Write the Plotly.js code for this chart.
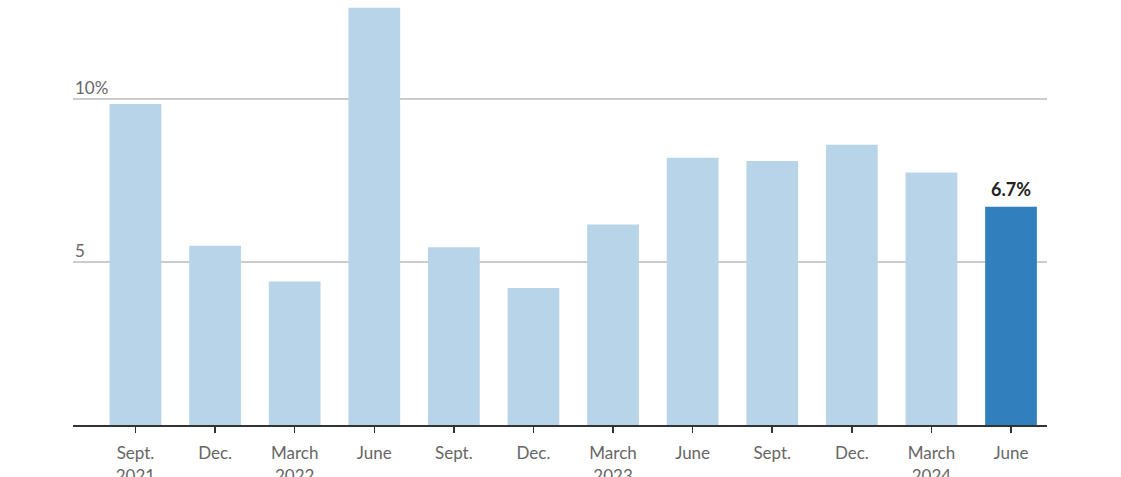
<!DOCTYPE html>
<html><head><meta charset="utf-8">
<script src="https://cdn.plot.ly/plotly-3.0.1.min.js"></script>
<style>html,body{margin:0;padding:0;background:#fff}#chart{width:1121px;height:477px}</style>
</head><body><div id="chart"></div>
<script>
const categories = ["Sept.<br>2021","Dec.","March<br>2022","June","Sept.","Dec.","March<br>2023","June","Sept.","Dec.","March<br>2024","June"];
const growth = [9.85, 5.5, 4.4, 12.8, 5.45, 4.2, 6.15, 8.2, 8.1, 8.6, 7.75, 6.7];
const yTickValues = [5, 10];
const yTickLabels = ["5", "10%"];
const highlightLabel = "6.7%";

const lightBlue = "#b8d4e8", darkBlue = "#3180bd";
const colors = growth.map((v, i) => i === growth.length - 1 ? darkBlue : lightBlue);
const idx = categories.map((c, i) => i);

const annotations = yTickValues.map((v, i) => ({
  xref: "paper", yref: "y", x: 0, y: v, xanchor: "left", yanchor: "bottom",
  text: yTickLabels[i], showarrow: false, yshift: -1,
  font: {family: "Lato, 'Source Sans Pro', sans-serif", size: 17, color: "#666"}
}));
annotations.push({
  xref: "x", yref: "y", x: growth.length - 1, y: growth[growth.length - 1],
  text: "<b>" + highlightLabel + "</b>", showarrow: false, yanchor: "bottom", yshift: 5,
  font: {family: "Lato, sans-serif", size: 18, color: "#222"}
});

Plotly.newPlot("chart", [{
  type: "bar", x: idx, y: growth, marker: {color: colors}, hoverinfo: "none"
}], {
  width: 1121, height: 477,
  margin: {l: 73, r: 74, t: 0, b: 52},
  paper_bgcolor: "#fff", plot_bgcolor: "#fff",
  bargap: 0.35,
  showlegend: false,
  xaxis: {
    range: [-0.785, 11.452], tickmode: "array", tickvals: idx, ticktext: categories,
    ticks: "outside", ticklen: 6, tickcolor: "#333", tickwidth: 1.5,
    ticklabelstandoff: 6,
    showline: true, linecolor: "#333", linewidth: 2, showgrid: false, zeroline: false,
    tickfont: {family: "Lato, 'Source Sans Pro', sans-serif", size: 17, color: "#666"},
    fixedrange: true
  },
  yaxis: {
    range: [0, 13.04], tickmode: "array", tickvals: yTickValues, showticklabels: false,
    showgrid: true, gridcolor: "#cccccc", gridwidth: 1.2, zeroline: false, fixedrange: true
  },
  annotations: annotations
}, {displayModeBar: false, staticPlot: true});
</script></body></html>
